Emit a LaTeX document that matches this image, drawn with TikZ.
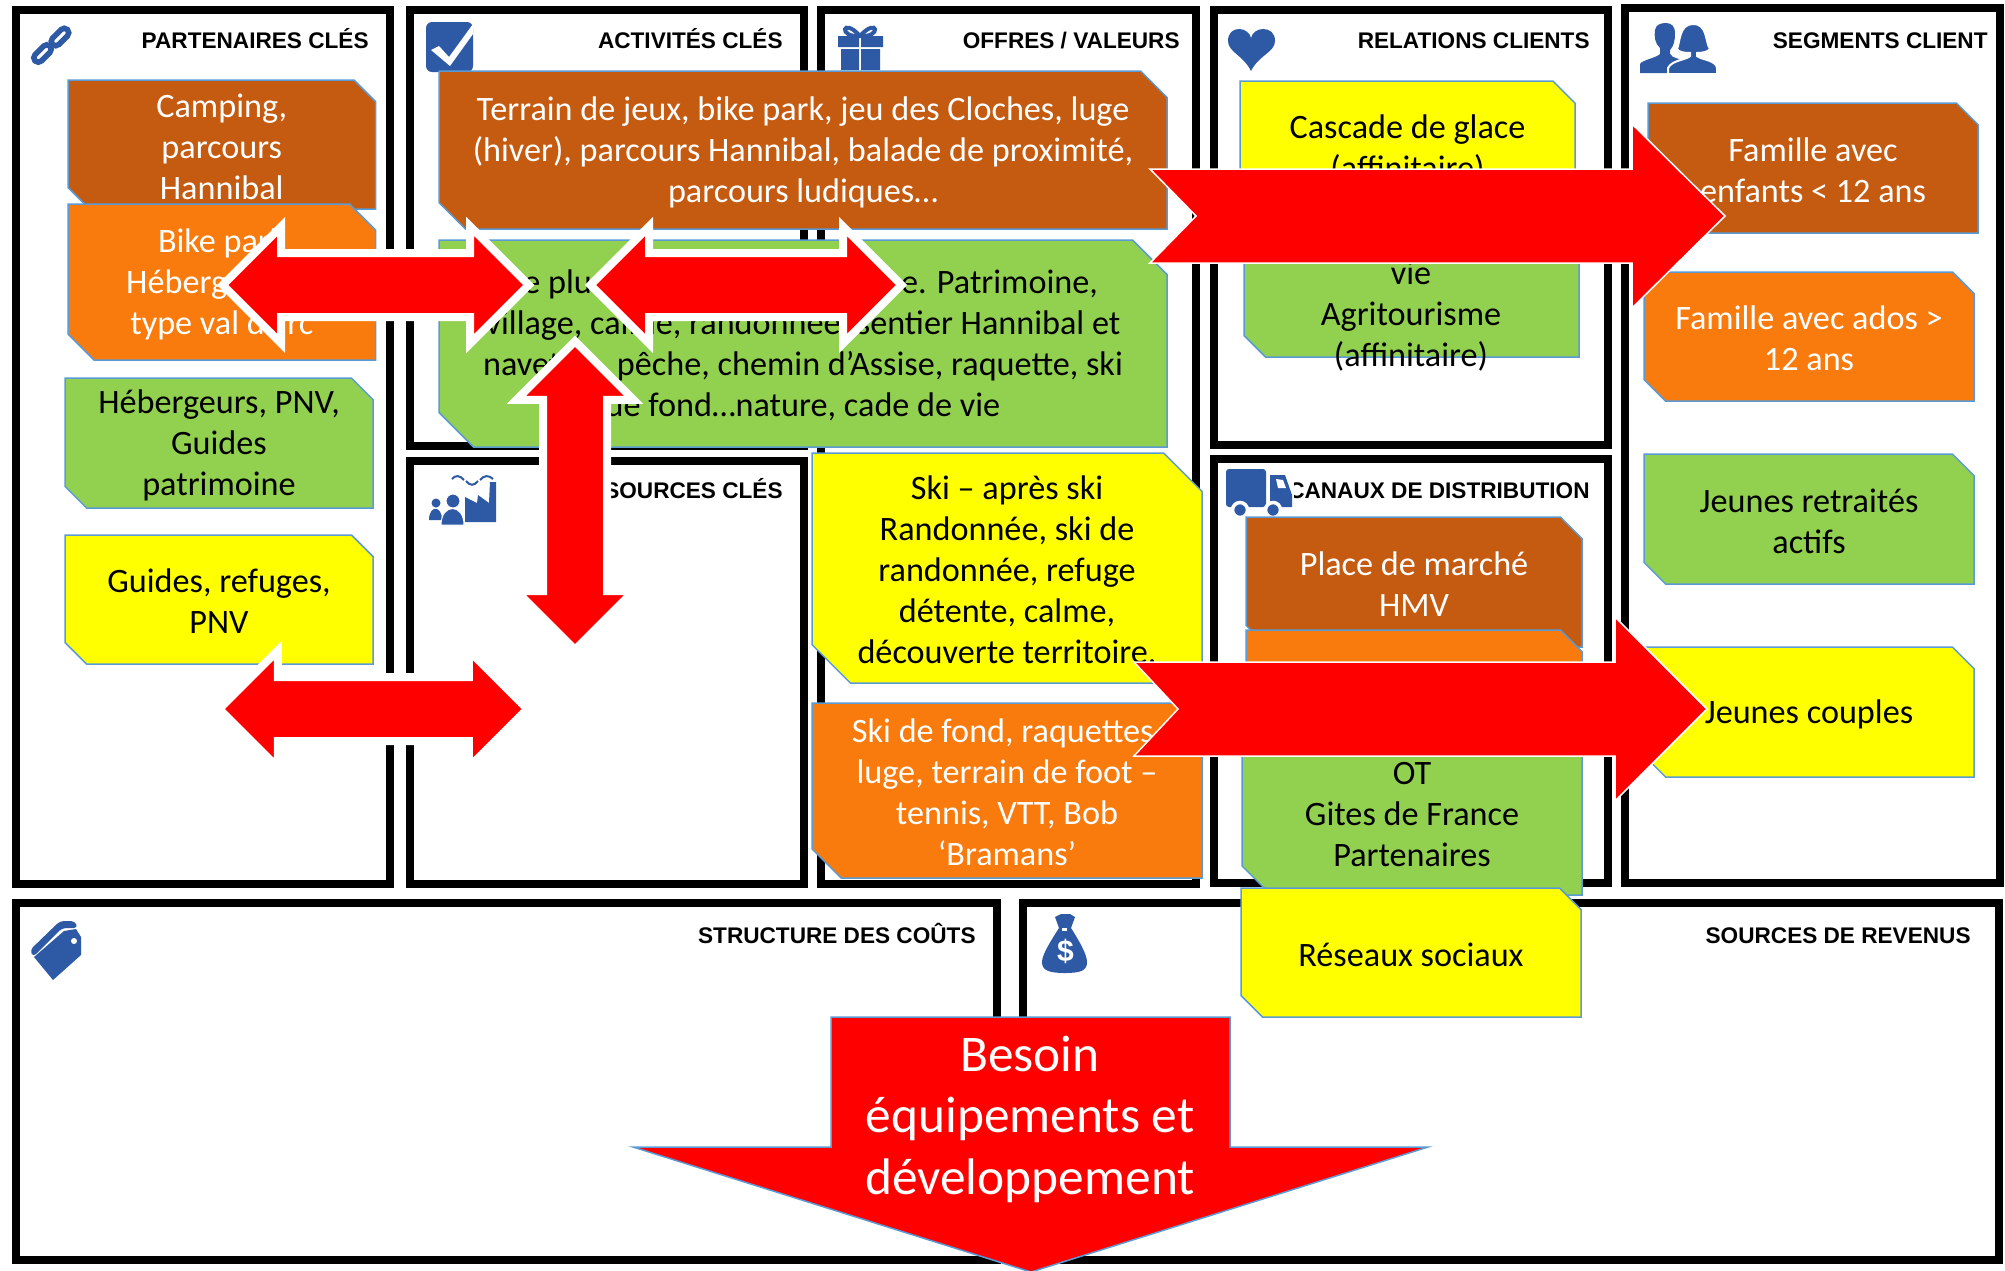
\documentclass[tikz,border=0pt]{standalone}
\usepackage{fontspec}
\setmainfont{Carlito}
\newfontfamily\headfont{Liberation Sans}
\usetikzlibrary{shapes}
\definecolor{cardbrown}{HTML}{C55A11}
\definecolor{cardorange}{HTML}{F97A0D}
\definecolor{cardgreen}{HTML}{92D050}
\definecolor{cardyellow}{HTML}{FFFF00}
\definecolor{cardline}{HTML}{5B9BD5}
\definecolor{arrowred}{HTML}{FF0000}
\definecolor{iconblue}{HTML}{2E5AA5}
\def\px{0.5pt}
\tikzset{
	panel/.style 2 args={draw=black, line width=8*\px, fill=white, minimum width=#1*\px, minimum height=#2*\px, inner sep=0},
	cardbox/.style 2 args={rectangle, minimum width=#1*\px, minimum height=#2*\px, inner sep=0, outer sep=0},
	bothways/.style={double arrow, double arrow head extend=26.5*\px, draw=white, line width=8*\px, fill=arrowred,
		text height=28*\px, text depth=28*\px, text width=0pt, minimum height=#1*\px, inner sep=0}
}
% snipped card: [text style]{name}{centre}{width}{height}{colour}{text}
\newcommand{\card}[7][cardtext]{%
	\node[cardbox={#4}{#5}] (#2) at (#3) {};
	\pgfmathsetmacro\snip{#5/6}
	\draw[fill=#6, draw=cardline, line width=1.5*\px] (#2.north west) -- ([xshift=-\snip*\px]#2.north east) -- ([yshift=-\snip*\px]#2.north east)
		-- (#2.south east) -- ([xshift=\snip*\px]#2.south west) -- ([yshift=\snip*\px]#2.south west) -- cycle;
	\node[#1] (#2T) at (#2) {#7};
}
\begin{document}
\begin{tikzpicture}[x=\px, y=-\px]
	\tikzstyle{headlabel}=[anchor=base east, inner sep=0, font=\headfont\bfseries\fontsize{11.3}{13}\selectfont]
	\tikzstyle{cardtext}=[inner sep=0, align=center, yshift=-1pt, font=\fontsize{17.1}{20.5}\selectfont]
	\tikzstyle{lighttext}=[cardtext, text=white]
	\tikzstyle{bigarrow}=[fill=arrowred, draw=white, line width=1.5*\px]
	\useasboundingbox (0,0) rectangle (2005,1270);
	% panels
	\node[panel={374}{874}] (partners) at (203,447) {};
	\node[panel={394}{436}] (activities) at (607,228) {};
	\node[panel={394}{423}] (resources) at (607,672.5) {};
	\node[panel={375}{874}] (offers) at (1008.5,447) {};
	\node[panel={394}{435}] (relations) at (1411,227.5) {};
	\node[panel={394}{424}] (channels) at (1411,671) {};
	\node[panel={375}{875}] (segments) at (1812.5,445.5) {};
	\node[panel={981}{357}] (costs) at (506.5,1081.5) {};
	\node[panel={976}{357}] (revenues) at (1511,1081.5) {};
	% titles
	\node[headlabel] (partnersH) at (369,48.5) {PARTENAIRES CLÉS};
	\node[headlabel] (activitiesH) at (783,48.5) {ACTIVITÉS CLÉS};
	\node[headlabel] (resourcesH) at (783,498.5) {RESSOURCES CLÉS};
	\node[headlabel] (offersH) at (1180,48.5) {OFFRES / VALEURS};
	\node[headlabel] (relationsH) at (1590,48.5) {RELATIONS CLIENTS};
	\node[headlabel] (channelsH) at (1590,498.5) {CANAUX DE DISTRIBUTION};
	\node[headlabel] (segmentsH) at (1988,48.5) {SEGMENTS CLIENT};
	\node[headlabel] (costsH) at (976,943.5) {STRUCTURE DES COÛTS};
	\node[headlabel] (revenuesH) at (1971,943.5) {SOURCES DE REVENUS};
	% icons
	\draw[iconblue, line width=5.5*\px, rounded corners=4.5*\px, rotate around={45:(60,37)}] (49.5,32.5) rectangle (70.5,41.5);
	\draw[iconblue, line width=5.5*\px, rounded corners=4.5*\px, rotate around={45:(42.5,53.5)}] (32,49) rectangle (53,58);
	\fill[iconblue, rounded corners=3pt] (426,22) rectangle (473,72);
	\fill[white] (431,50) -- (439,46) -- (449,57) -- (473,24) -- (473,34) -- (450,66) -- cycle;
	\draw[iconblue, line width=4*\px] (860,36) .. controls (842,16) and (838,38) .. (860,36) .. controls (882,38) and (878,16) .. (860,36);
	\fill[iconblue] (838,36) rectangle (859,47) (861,36) rectangle (883,47) (841,49) rectangle (859,70) (861,49) rectangle (880,70);
	\fill[iconblue] (1251,71) .. controls (1243,55) and (1228,52) .. (1228,41) .. controls (1228,33) and (1233,29) .. (1239,29)
		.. controls (1245,29) and (1250,33) .. (1251,38) .. controls (1252,33) and (1257,29) .. (1263,29)
		.. controls (1270,29) and (1275,33) .. (1275,41) .. controls (1275,52) and (1259,55) .. (1251,71) -- cycle;
	\fill[iconblue] (1640,73) -- (1640,64) .. controls (1642,60) and (1656,58) .. (1660,54) -- (1660,48) .. controls (1655,44) and (1654,36) .. (1655,30)
		.. controls (1656,25) and (1660,23) .. (1666,23) .. controls (1672,23) and (1675,27) .. (1675,33) .. controls (1675,40) and (1674,46) .. (1670,50)
		-- (1670,54) .. controls (1672,58) and (1680,59) .. (1684,61) -- (1684,73) -- cycle;
	\fill[iconblue, draw=white, line width=2*\px] (1668,74) -- (1668,68) .. controls (1672,60) and (1686,60) .. (1690,56) -- (1690,53)
		.. controls (1684,53) and (1678,52) .. (1677,49) .. controls (1680,42) and (1679,24) .. (1693,24) .. controls (1708,24) and (1705,42) .. (1710,49)
		.. controls (1708,52) and (1702,53) .. (1697,53) -- (1697,56) .. controls (1702,60) and (1716,60) .. (1717,68) -- (1717,74) -- cycle;
	\fill[iconblue] (465,522) -- (465,497) -- (477,503) -- (478,495) -- (489,503) -- (490,482) -- (496,482) -- (496,522) -- cycle;
	\fill[iconblue] (436,503) circle (4.5) (429,520) .. controls (429,505) and (442,505) .. (442,520) -- cycle;
	\fill[iconblue, draw=white, line width=1*\px] (453,501) circle (7) (441,525) .. controls (441,503) and (464,503) .. (464,525) -- cycle;
	\draw[iconblue, line width=2*\px] (452,479) .. controls (455,475) and (460,475) .. (464,480) (466,481) .. controls (470,486) and (474,486) .. (478,481) (480,480) .. controls (484,475) and (489,475) .. (493,479);
	\fill[iconblue, rounded corners=2pt] (30,950) -- (60,921) -- (75,921) -- (78,928) -- (62,928) -- (33,957) -- cycle;
	\fill[iconblue] (34,957) -- (64,931) -- (76,929) -- (81,937) -- (81,955) -- (53,980) -- cycle;
	\fill[white] (74,941) circle (3);
	\fill[iconblue] (1055,917) -- (1061,914) -- (1070,914) -- (1075,917) -- (1071,928) .. controls (1080,942) and (1087,955) .. (1087,962)
		.. controls (1087,970) and (1082,973) .. (1065,973) .. controls (1048,973) and (1042,970) .. (1042,962) .. controls (1042,955) and (1050,942) .. (1059,928) -- cycle;
	\fill[white] (1061.5,927.5) rectangle (1066.5,930.5);
	\node[inner sep=0, text=white, font=\headfont\bfseries\fontsize{15}{16}\selectfont] (dollar) at (1065.5,951) {\$};
	% truck
	\fill[white] (1225,469) rectangle (1294,516);
	\fill[iconblue, rounded corners=1.5pt] (1226,469) rectangle (1266,507);
	\fill[iconblue] (1270,475) -- (1285,475) -- (1292,495) -- (1292,507) -- (1270,507) -- cycle;
	\fill[white] (1276,479) -- (1283,480) -- (1286,488) -- (1278,488) -- cycle;
	\fill[iconblue, draw=white, line width=3.5*\px] (1240,510) circle (7.5) (1273,510) circle (7.5);
	% cards
	\card[lighttext]{camping}{221.75,144.5}{307.5}{129}{cardbrown}{Camping,\\parcours\\Hannibal}
	\card[lighttext]{bikepark}{221.75,282}{307.5}{156}{cardorange}{Bike park\\Hébergement\\type val d’arc}
	\card{hosts}{219,443}{308}{130}{cardgreen}{Hébergeurs, PNV,\\Guides\\patrimoine}
	\card{guides}{219,599.5}{308}{129}{cardyellow}{Guides, refuges,\\PNV}
	\card[lighttext]{games}{803,150}{728}{158}{cardbrown}{Terrain de jeux, bike park, jeu des Cloches, luge\\(hiver), parcours Hannibal, balade de proximité,\\parcours ludiques…}
	\card{heritage}{803,343.5}{728}{207}{cardgreen}{\hspace*{7.6pt}e plu\hspace{154.6pt}e. Patrimoine,\\village, calme, randonnée, sentier Hannibal et\\navettes, pêche, chemin d’Assise, raquette, ski\\de fond…nature, cade de vie}
	\card{skiing}{1007,568}{390}{230}{cardyellow}{Ski – après ski\\Randonnée, ski de\\randonnée, refuge\\détente, calme,\\découverte territoire.}
	\card[lighttext]{crosscountry}{1007,790.5}{390}{175}{cardorange}{Ski de fond, raquettes,\\luge, terrain de foot –\\tennis, VTT, Bob\\‘Bramans’}
	\card{icefall}{1407.5,147.5}{335}{133}{cardyellow}{Cascade de glace\\(affinitaire)}
	\card{agri}{1411.5,292.5}{335}{129}{cardgreen}{}
	\node[cardtext] (agriL) at (1411,314) {vie\\Agritourisme\\(affinitaire)};
	\card[lighttext]{family}{1813,168}{330}{130}{cardbrown}{Famille avec\\enfants < 12 ans}
	\card[lighttext]{teens}{1809,336.5}{330}{129}{cardorange}{Famille avec ados >\\12 ans}
	\card{retired}{1809,519}{330}{130}{cardgreen}{Jeunes retraités\\actifs}
	\card{couples}{1809,712}{330}{130}{cardyellow}{Jeunes couples}
	\card[lighttext]{market}{1414,582}{336}{130}{cardbrown}{Place de marché\\HMV}
	\card{chanOrange}{1414,695}{336}{130}{cardorange}{}
	\card{chanGreen}{1412,807.5}{340}{175}{cardgreen}{}
	\node[cardtext] (chanGreenL) at (1412,813) {OT\\Gites de France\\Partenaires};
	\card{social}{1411,952.5}{340}{129}{cardyellow}{Réseaux sociaux}
	% arrows
	\draw[bigarrow] (1150,169) -- (1632,169) -- (1632,124) -- (1725,216) -- (1632,308) -- (1632,263) -- (1150,263) -- (1196,216) -- cycle;
	\draw[bigarrow] (1134,662) -- (1615,662) -- (1615,617) -- (1707,709) -- (1615,801) -- (1615,756) -- (1134,756) -- (1178,709) -- cycle;
	\node[bothways=306] (partnersActivities) at (375.7,285) {};
	\node[bothways=311] (activitiesOffers) at (746,285) {};
	\node[bothways=308.4, rotate=90] (activitiesResources) at (575,495.5) {};
	\node[bothways=308] (partnersResources) at (373.25,709) {};
	\draw[fill=arrowred, draw=cardline, line width=1.5*\px] (831,1017) -- (1230,1017) -- (1230,1147) -- (1428,1147) -- (1031,1272) -- (633,1147) -- (831,1147) -- cycle;
	\node[inner sep=0, align=center, text=white, font=\fontsize{25.7}{30.75}\selectfont] (needs) at (1030,1119) {Besoin\\équipements et\\développement};
\end{tikzpicture}
\end{document}
